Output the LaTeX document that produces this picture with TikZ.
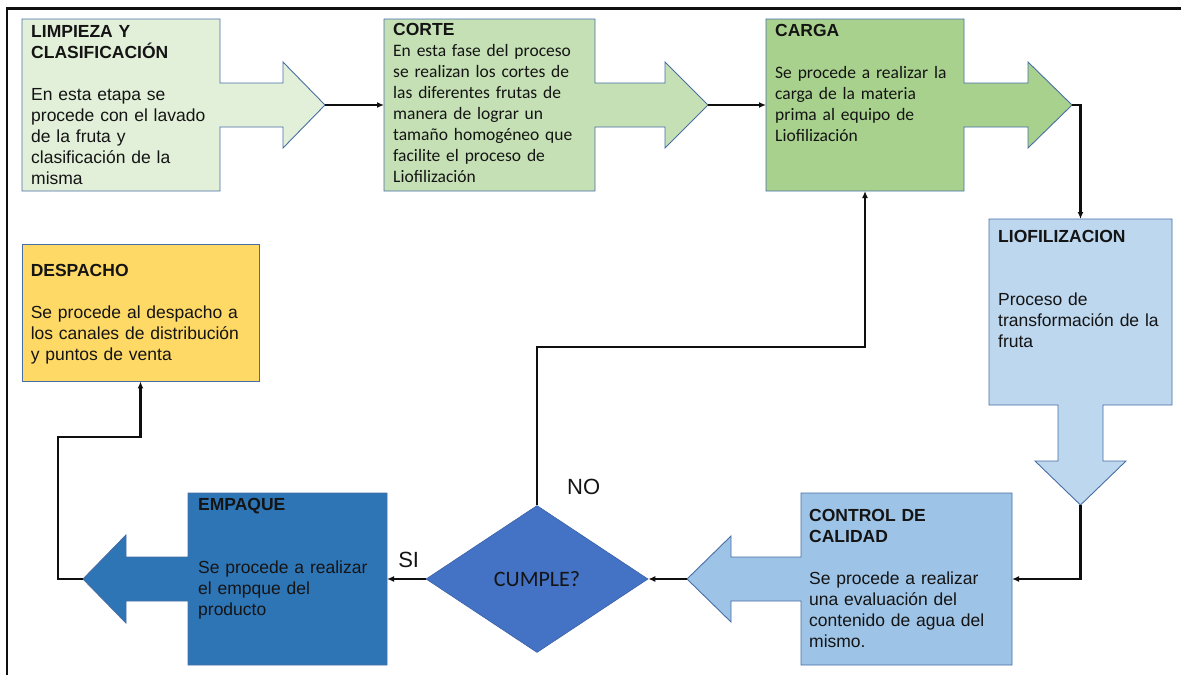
\documentclass[tikz,border=0pt]{standalone}
\usepackage{fontspec}
\setmainfont{Liberation Sans}
\newfontfamily\calibri{Carlito}
\usetikzlibrary{arrows.meta,positioning,calc,shapes.geometric}
\definecolor{LimpColor}{RGB}{226,240,217}
\definecolor{CorteColor}{RGB}{197,224,180}
\definecolor{CargaColor}{RGB}{169,209,142}
\definecolor{LiofColor}{RGB}{189,215,238}
\definecolor{ControlColor}{RGB}{157,195,230}
\definecolor{CumpleColor}{RGB}{68,114,196}
\definecolor{EmpaqueColor}{RGB}{46,117,182}
\definecolor{DespachoColor}{RGB}{255,217,102}
\definecolor{EdgeColor}{RGB}{72,110,165}
\definecolor{TextDark}{RGB}{20,20,20}
\definecolor{LineDark}{RGB}{15,15,15}

\begin{document}
\begin{tikzpicture}[x=1pt,y=-1pt,
    holder/.style={inner sep=0pt, outer sep=0pt},
    blockshape/.style={draw=EdgeColor, line width=0.9pt, line join=miter},
    txt/.style={inner sep=0pt, text width=230pt, align=left, anchor=north west, text=TextDark, font=\fontsize{17.5}{21}\selectfont},
    flow/.style={line width=2.2pt, draw=LineDark, -{Latex[length=7pt,width=6pt]}},
    lbl/.style={inner sep=0pt, text=TextDark, font=\fontsize{22}{26}\selectfont}]
  \useasboundingbox (0,0) rectangle (1181,675);
  \draw[line width=2.4pt, LineDark] (7,675) -- (7,8.5) -- (1181,8.5);

  % upper row
  \node[holder, minimum width=198pt, minimum height=172pt] (limp) at (121,105) {};
  \filldraw[blockshape, fill=LimpColor] (limp.north west) -- (limp.north east) -- ++(0,64) -- ++(63,0) -- ++(0,-21) -- ++(42,43) coordinate (limptip) -- ++(-42,43) -- ++(0,-21) -- ++(-63,0) -- (limp.south east) -- (limp.south west) -- cycle;
  \node[holder, minimum width=211pt, minimum height=172pt] (corte) at (489.5,105) {};
  \filldraw[blockshape, fill=CorteColor] (corte.north west) -- (corte.north east) -- ++(0,64) -- ++(70,0) -- ++(0,-21) -- ++(43,43) coordinate (cortetip) -- ++(-43,43) -- ++(0,-21) -- ++(-70,0) -- (corte.south east) -- (corte.south west) -- cycle;
  \node[holder, minimum width=198pt, minimum height=172pt] (carga) at (865,105) {};
  \filldraw[blockshape, fill=CargaColor] (carga.north west) -- (carga.north east) -- ++(0,64) -- ++(64,0) -- ++(0,-21) -- ++(44,43) coordinate (cargatip) -- ++(-44,43) -- ++(0,-21) -- ++(-64,0) -- (carga.south east) -- (carga.south west) -- cycle;

  % right column and lower row
  \node[holder, minimum width=183pt, minimum height=186pt] (liof) at (1080.5,312) {};
  \filldraw[blockshape, fill=LiofColor] (liof.north west) -- (liof.north east) -- (liof.south east) -- ++(-69,0) -- ++(0,56) -- ++(23,0) -- ++(-45.5,44) coordinate (lioftip) -- ++(-45.5,-44) -- ++(23,0) -- ++(0,-56) -- (liof.south west) -- cycle;
  \node[holder, minimum width=211pt, minimum height=172pt] (control) at (906.5,579) {};
  \filldraw[blockshape, fill=ControlColor] (control.north east) -- (control.north west) -- ++(0,64) -- ++(-70,0) -- ++(0,-21) -- ++(-44,43) coordinate (controltip) -- ++(44,43) -- ++(0,-21) -- ++(70,0) -- (control.south west) -- (control.south east) -- cycle;
  \node[holder, minimum width=199pt, minimum height=172pt] (empaque) at (287.5,579) {};
  \filldraw[blockshape, fill=EmpaqueColor] (empaque.north east) -- (empaque.north west) -- ++(0,64) -- ++(-62,0) -- ++(0,-22) -- ++(-43,44) coordinate (empaquetip) -- ++(43,44) -- ++(0,-22) -- ++(62,0) -- (empaque.south west) -- (empaque.south east) -- cycle;
  \node[blockshape, fill=DespachoColor, minimum width=237pt, minimum height=137pt, inner sep=0pt] (despacho) at (140.5,312.5) {};
  \node[diamond, draw=CumpleColor!85!black, line width=0.6pt, fill=CumpleColor, minimum width=222pt, minimum height=147pt, inner sep=0pt, text=TextDark, font=\calibri\fontsize{22}{26}\selectfont] (cumple) at (537,579) {CUMPLE?};

  % texts
  \node[txt] (limptxt) at ($(limp.north west)+(9,6.5)$) {\textbf{LIMPIEZA Y}\\\textbf{CLASIFICACIÓN}\\[21pt]En esta etapa se\\procede con el lavado\\de la fruta y\\clasificación de la\\misma};
  \node[txt] (cortetxt) at ($(corte.north west)+(9,4.5)$) {\textbf{CORTE}\\{\calibri En esta fase del proceso\\se realizan los cortes de\\las diferentes frutas de\\manera de lograr un\\tamaño homogéneo que\\facilite el proceso de\\Liofilización}};
  \node[txt] (cargatxt) at ($(carga.north west)+(9,5.5)$) {\textbf{CARGA}\\[21pt]{\calibri Se procede a realizar la\\carga de la materia\\prima al equipo de\\Liofilización}};
  \node[txt] (lioftxt) at ($(liof.north west)+(9,11.5)$) {\textbf{LIOFILIZACION}\\[42pt]Proceso de\\transformación de la\\fruta};
  \node[txt] (controltxt) at ($(control.north west)+(8,16.5)$) {\textbf{CONTROL DE}\\\textbf{CALIDAD}\\[21pt]Se procede a realizar\\una evaluación del\\contenido de agua del\\mismo.};
  \node[txt] (empaquetxt) at ($(empaque.north west)+(10,5.5)$) {\textbf{EMPAQUE}\\[42pt]Se procede a realizar\\el empque del\\producto};
  \node[txt] (despachotxt) at ($(despacho.north west)+(9,20.5)$) {\textbf{DESPACHO}\\[21pt]Se procede al despacho a\\los canales de distribución\\y puntos de venta};
  \node[lbl, anchor=west] (nolbl) at ($(cumple.north)+(30,-18)$) {NO};
  \node[lbl, anchor=south] (silbl) at ($(cumple.west)+(-17,-11)$) {SI};

  % connectors
  \draw[flow] (limptip) -- (corte.west);
  \draw[flow] (cortetip) -- (carga.west);
  \draw[flow] (cargatip) -| (liof.north);
  \draw[flow] (lioftip) |- (control.east);
  \draw[flow] (controltip) -- (cumple.east);
  \draw[flow] (cumple.west) -- (empaque.east);
  \draw[flow] (cumple.north) -- ++(0,-158) -| (carga.south);
  \draw[flow] (empaquetip) -- ++(-25,0) -- ++(0,-142) -| (despacho.south);
\end{tikzpicture}
\end{document}
